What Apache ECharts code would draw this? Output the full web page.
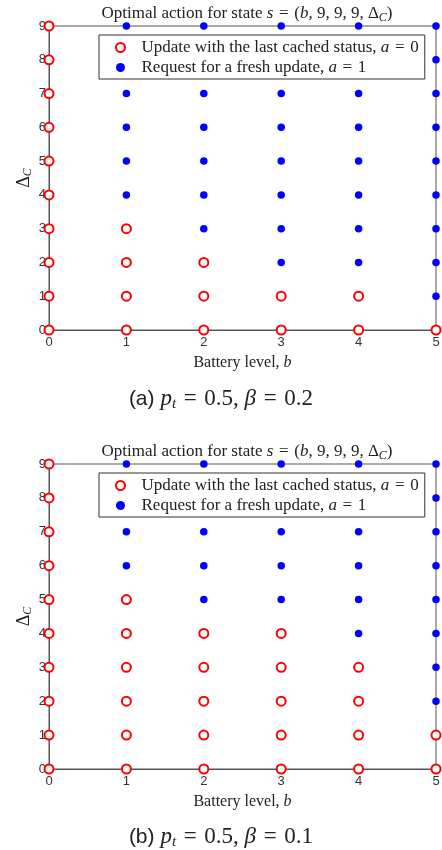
<!DOCTYPE html>
<html>
<head>
<meta charset="utf-8">
<script src="https://cdn.jsdelivr.net/npm/echarts@6/dist/echarts.min.js"></script>
<style>
  html, body { margin: 0; padding: 0; background: #fff; }
  #main { width: 442px; height: 850px; }
</style>
</head>
<body>
<div id="main"></div>
<script>
// 数据
var batteryLevels = [0, 1, 2, 3, 4, 5];          // b
var deltaC = [0, 1, 2, 3, 4, 5, 6, 7, 8, 9];     // Δ_C
// 每个电量等级下 Δ_C = 0..9 的最优动作 (0: cached, 1: fresh)
var actionsA = [
  [0, 0, 0, 0, 0, 0, 0, 0, 0, 0],
  [0, 0, 0, 0, 1, 1, 1, 1, 1, 1],
  [0, 0, 0, 1, 1, 1, 1, 1, 1, 1],
  [0, 0, 1, 1, 1, 1, 1, 1, 1, 1],
  [0, 0, 1, 1, 1, 1, 1, 1, 1, 1],
  [0, 1, 1, 1, 1, 1, 1, 1, 1, 1]
];
var actionsB = [
  [0, 0, 0, 0, 0, 0, 0, 0, 0, 0],
  [0, 0, 0, 0, 0, 0, 1, 1, 1, 1],
  [0, 0, 0, 0, 0, 1, 1, 1, 1, 1],
  [0, 0, 0, 0, 0, 1, 1, 1, 1, 1],
  [0, 0, 0, 0, 1, 1, 1, 1, 1, 1],
  [0, 0, 1, 1, 1, 1, 1, 1, 1, 1]
];
var name0 = 'Update with the last cached status, a = 0';
var name1 = 'Request for a fresh update, a = 1';

function pick(actions, a) {
  var pts = [];
  batteryLevels.forEach(function (b, i) {
    deltaC.forEach(function (d, j) {
      if (actions[i][j] === a) pts.push([b, d]);
    });
  });
  return pts;
}

var serif = 'Liberation Serif';
var sans = 'Liberation Sans';
var ink = '#222';
var EQ = '\u2004=\u2004';   // 数学公式里等号两边的间距

// 富文本样式：n 正文, i 斜体, s 下标, p 无衬线
function mathRich(size, subSize, subPad) {
  return {
    f: { fontFamily: serif, fontSize: size, fontWeight: 'normal', color: ink, padding: [0, 0, 0, 10] },
    n: { fontFamily: serif, fontSize: size, fontWeight: 'normal', color: ink },
    i: { fontFamily: serif, fontSize: size, fontWeight: 'normal', fontStyle: 'italic', color: ink },
    s: { fontFamily: serif, fontSize: subSize, fontWeight: 'normal', fontStyle: 'italic', color: ink, padding: [subPad, 0, 0, 0] },
    p: { fontFamily: sans, fontSize: size - 2, fontWeight: 'normal', color: ink }
  };
}
var titleText = '{n|Optimal action for state }{i|s}{n|' + EQ + '(}{i|b}{n|, 9, 9, 9, Δ}{s|C}{n|)}';

var chart = echarts.init(document.getElementById('main'), null, { renderer: 'canvas' });

var grids = [
  { left: 49, right: 6, top: 26, height: 304 },
  { left: 49, right: 6, top: 464, height: 305 }
];

function xAx(idx) {
  return {
    gridIndex: idx, type: 'value', min: 0, max: 5, interval: 1,
    axisLine: { show: true, lineStyle: { color: '#555', width: 1 } },
    axisTick: { show: false },
    splitLine: { show: false },
    axisLabel: { color: '#333', fontFamily: sans, fontSize: 13, margin: 6 },
    name: '{n|Battery level, }{i|b}', nameLocation: 'middle', nameGap: 25,
    nameTextStyle: { rich: mathRich(16, 11, 8) }
  };
}
function yAx(idx) {
  return {
    gridIndex: idx, type: 'value', min: 0, max: 9, interval: 1,
    axisLine: { show: true, lineStyle: { color: '#555', width: 1 } },
    axisTick: { show: false },
    splitLine: { show: false },
    axisLabel: { color: '#333', fontFamily: sans, fontSize: 13, margin: 3 },
    name: '{n|Δ}{s|C}', nameLocation: 'middle', nameGap: 15, nameRotate: 90,
    nameMoveOverlap: false,
    nameTextStyle: { rich: mathRich(18, 12, 8) }
  };
}

function redSeries(idx, actions) {
  return {
    name: name0, type: 'scatter', xAxisIndex: idx, yAxisIndex: idx, clip: false,
    symbol: 'emptyCircle', symbolSize: 9,
    itemStyle: { color: '#ff0000', borderColor: '#ff0000', borderWidth: 2.5, opacity: 1 },
    data: pick(actions, 0), z: 3
  };
}
function blueSeries(idx, actions) {
  return {
    name: name1, type: 'scatter', xAxisIndex: idx, yAxisIndex: idx, clip: false,
    symbol: 'circle', symbolSize: 7.5,
    itemStyle: { color: '#0000ff', opacity: 1 },
    data: pick(actions, 1), z: 3
  };
}

function legendAt(top) {
  return {
    orient: 'vertical', left: 99, top: top,
    backgroundColor: '#fff', borderColor: '#333', borderWidth: 1,
    padding: [4, 6, 3, 16], itemGap: 3, itemWidth: 12, itemHeight: 9,
    selectedMode: false,
    data: [name0, name1],
    formatter: function (n) {
      return n === name0
        ? '{f|Update with the last cached status, }{i|a}{n|' + EQ + '0}'
        : '{f|Request for a fresh update, }{i|a}{n|' + EQ + '1}';
    },
    textStyle: { rich: mathRich(17, 12, 8) }
  };
}

function caption(label, beta, top) {
  return {
    text: '{p|(' + label + ') }{i|p}{s|t}{n|' + EQ + '0.5, }{i|β}{n|' + EQ + beta + '}',
    left: 'center', top: top,
    textStyle: { rich: mathRich(23, 15, 11) }
  };
}

var option = {
  animation: false,
  title: [
    { text: titleText, left: 242, textAlign: 'center', top: -1, textStyle: { rich: mathRich(17, 12, 8) } },
    caption('a', '0.2', 381),
    { text: titleText, left: 242, textAlign: 'center', top: 437, textStyle: { rich: mathRich(17, 12, 8) } },
    caption('b', '0.1', 819)
  ],
  grid: grids.map(function (g) {
    return Object.assign({
      show: true, borderColor: '#555', borderWidth: 1, backgroundColor: 'transparent',
      outerBoundsMode: 'none'
    }, g);
  }),
  legend: [legendAt(35), legendAt(473)],
  xAxis: [xAx(0), xAx(1)],
  yAxis: [yAx(0), yAx(1)],
  series: [
    redSeries(0, actionsA), blueSeries(0, actionsA),
    redSeries(1, actionsB), blueSeries(1, actionsB)
  ]
};

chart.setOption(option);
</script>
</body>
</html>
